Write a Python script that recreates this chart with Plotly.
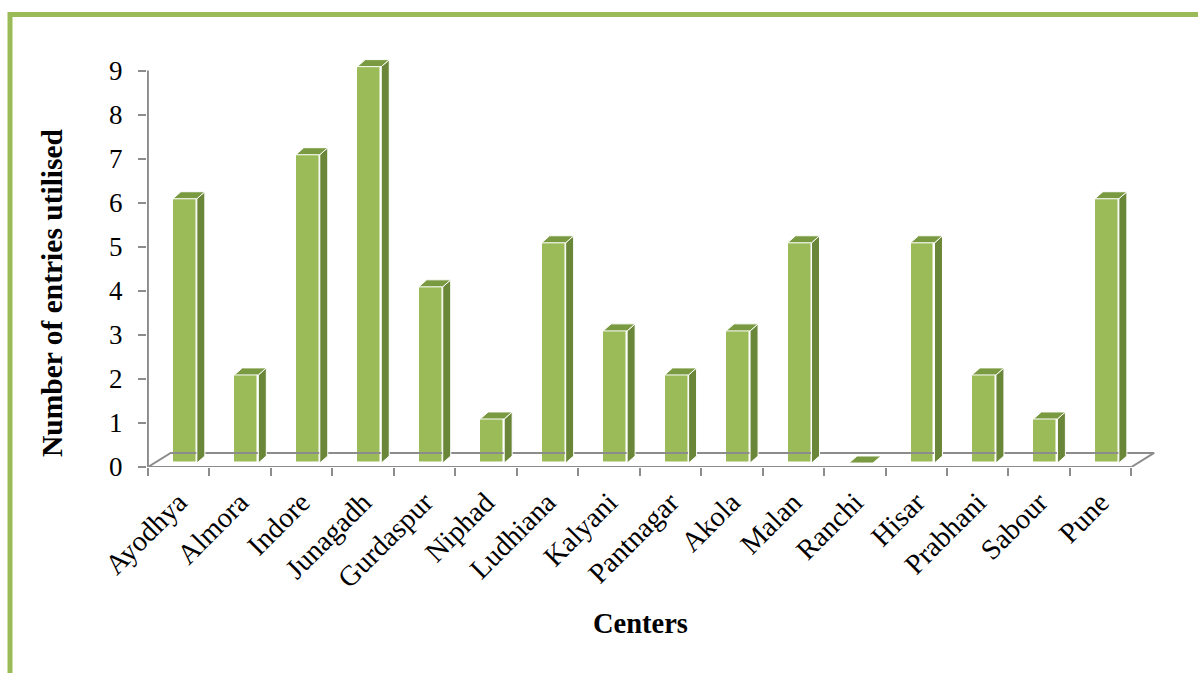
import plotly.graph_objects as go

# Number of entries utilised at each center
centers = ["Ayodhya", "Almora", "Indore", "Junagadh", "Gurdaspur", "Niphad",
           "Ludhiana", "Kalyani", "Pantnagar", "Akola", "Malan", "Ranchi",
           "Hisar", "Prabhani", "Sabour", "Pune"]
entries = [6, 2, 7, 9, 4, 1, 5, 3, 2, 3, 5, 0, 5, 2, 1, 6]
y_ticks = list(range(0, 10))

FONT = "Liberation Serif, Times New Roman, serif"
FRONT = "#9BBB59"
SIDE = "#6A8638"
TOP = "#7A9A41"
AXIS = "#8C8C8C"

# pseudo-3D geometry (data units)
bar_w = 0.39          # front face width
bar_off = -0.094      # left edge relative to category center
lift = 0.09           # front face raised by its depth position on the floor
dep_x, dep_y = 0.13, 0.16     # bar depth projection
floor_x, floor_y = 0.37, 0.32  # floor depth projection

idx = list(range(len(centers)))
n = len(centers)

fig = go.Figure()

# floor outline
fig.add_trace(go.Scatter(
    x=[-0.5, n - 0.5, n - 0.5 + floor_x, -0.5 + floor_x, -0.5],
    y=[0, 0, floor_y, floor_y, 0],
    mode="lines", line=dict(color=AXIS, width=2),
    hoverinfo="skip", showlegend=False))

# value axis line
fig.add_trace(go.Scatter(
    x=[-0.5, -0.5], y=[0, y_ticks[-1]],
    mode="lines", line=dict(color=AXIS, width=2),
    hoverinfo="skip", showlegend=False))

# front faces
fig.add_trace(go.Bar(
    x=idx, y=entries, base=lift, width=bar_w, offset=bar_off,
    marker=dict(color=FRONT, line=dict(color="white", width=1.5)),
    showlegend=False, hovertext=centers))

# side and top faces
sx, sy, tx, ty = [], [], [], []
for i, v in zip(idx, entries):
    xl = i + bar_off
    xr = xl + bar_w
    y0 = lift
    y1 = lift + v
    if v > 0:
        sx += [xr, xr + dep_x, xr + dep_x, xr, xr, None]
        sy += [y0, y0 + dep_y, y1 + dep_y, y1, y0, None]
    tx += [xl, xr, xr + dep_x, xl + dep_x, xl, None]
    ty += [y1, y1, y1 + dep_y, y1 + dep_y, y1, None]

fig.add_trace(go.Scatter(
    x=sx, y=sy, mode="lines", fill="toself", fillcolor=SIDE,
    line=dict(color="white", width=1), hoverinfo="skip", showlegend=False))
fig.add_trace(go.Scatter(
    x=tx, y=ty, mode="lines", fill="toself", fillcolor=TOP,
    line=dict(color="white", width=1), hoverinfo="skip", showlegend=False))

W, H = 1198, 673
L, R, T, B = 147, 42, 53, 206
pw, ph = W - L - R, H - T - B


def px(xp):
    return (xp - L) / pw


def py(yp):
    return (H - B - yp) / ph


fig.update_layout(
    width=W, height=H, autosize=False,
    margin=dict(l=L, r=R, t=T, b=B, pad=0),
    paper_bgcolor="white", plot_bgcolor="white",
    bargap=0,
    font=dict(family=FONT, color="black"),
    xaxis=dict(
        range=[-0.515, 15.9], showgrid=False, zeroline=False, showline=False,
        tickmode="array", tickvals=idx, ticktext=centers, tickangle=-45,
        ticks="", tickfont=dict(size=28.5, family=FONT, color="black"),
        ticklabelstandoff=12,
        minor=dict(tickmode="array", tickvals=[i - 0.5 for i in range(n + 1)],
                   ticks="outside", ticklen=8, tickwidth=2, tickcolor=AXIS,
                   showgrid=False),
    ),
    yaxis=dict(
        range=[0, 9.4], showgrid=False, zeroline=False, showline=False,
        tickmode="array", tickvals=y_ticks, ticks="outside", ticklen=8,
        tickwidth=2, tickcolor=AXIS,
        tickfont=dict(size=27, family=FONT, color="black"),
        ticklabelstandoff=10,
    ),
    annotations=[
        dict(text="<b>Number of entries utilised</b>", textangle=-90,
             xref="paper", yref="paper", x=px(52), y=py(293),
             xanchor="center", yanchor="middle", showarrow=False,
             font=dict(size=29.5, family=FONT, color="black")),
        dict(text="<b>Centers</b>",
             xref="paper", yref="paper", x=px(640), y=py(623),
             xanchor="center", yanchor="middle", showarrow=False,
             font=dict(size=28.5, family=FONT, color="black")),
    ],
    shapes=[
        dict(type="rect", xref="paper", yref="paper",
             x0=px(10), y0=py(14.5), x1=px(1230), y1=py(700),
             line=dict(color="#9BBB59", width=5), fillcolor="rgba(0,0,0,0)",
             layer="above"),
    ],
)

fig.write_html("out.html")
